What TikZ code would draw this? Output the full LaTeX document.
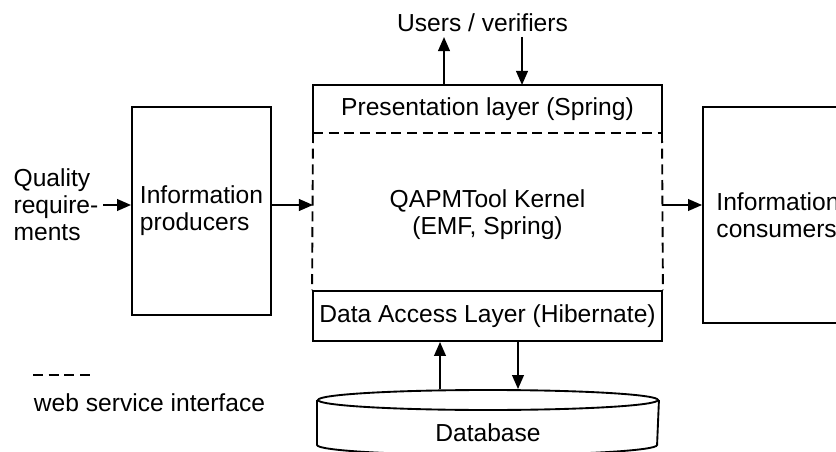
\documentclass[tikz,border=0pt]{standalone}
\usepackage{fontspec}
\setmainfont{Liberation Sans}
\usetikzlibrary{arrows.meta,shapes.geometric}

\begin{document}
\begin{tikzpicture}[x=0.03cm, y=-0.03cm, line width=1.6pt,
    font=\fontsize{21pt}{23pt}\selectfont,
    box/.style={draw, rectangle, inner sep=0pt},
    arr/.style={-{Triangle[length=12pt,width=10pt]}},
    wsi/.style={dash pattern=on 0.3cm off 0.17cm}]
    \useasboundingbox (0,0) rectangle (836,452);
    \clip (0,0) rectangle (836,452);
    \node(users) at (482.5,23) {Users / verifiers};
    \coordinate(uout) at (444,37);
    \coordinate(uin) at (522,37);
    \node[rectangle, inner sep=0pt, outer sep=0pt, minimum width=10.47cm, minimum height=1.44cm](pres) at (487.5,109) {Presentation layer (Spring)};
    \node[align=center](kernel) at (487.5,215) {QAPMTool Kernel\\(EMF, Spring)};
    \node[box, minimum width=10.47cm, minimum height=1.5cm](dal) at (487.5,316) {Data Access Layer (Hibernate)};
    \node[box, align=left, minimum width=4.17cm, minimum height=6.24cm](prod) at (201.5,211) {Information\\producers};
    \node[box, align=left, minimum width=4.5cm, minimum height=6.48cm](cons) at (778,215) {Information\\consumers};
    \node[align=left](quality) at (56,205) {Quality\\require-\\ments};
    \node[ellipse, draw, inner sep=0pt, minimum width=10.2cm, minimum height=0.6cm](dbtop) at (488,400) {};
    \node(db) at (488,433) {Database};
    \coordinate(dbout) at (440,0);
    \coordinate(dbin) at (518,0);
    \node[anchor=west, inner sep=0pt](legend) at (33,403) {web service interface};

    \draw (pres.south west) -- (pres.north west) -- (pres.north east) -- (pres.south east);
    \draw[wsi] (pres.south west) -- (pres.south east);
    \draw[wsi] (pres.south west) -- (dal.north west);
    \draw[wsi] (pres.south east) -- (dal.north east);
    \draw (dbtop.west) -- ++(0,45) arc[start angle=180, end angle=360, x radius=5.1cm, y radius=0.3cm] -- (dbtop.east);
    \draw[wsi] (33,375) -- (90,375);

    \draw[arr] (pres.north -| uout) -- (uout);
    \draw[arr] (uin) -- (pres.north -| uin);
    \draw[arr] (quality) -- (quality -| prod.west);
    \draw[arr] (quality -| prod.east) -- (quality -| pres.west);
    \draw[arr] (quality -| pres.east) -- (quality -| cons.west);
    \draw[arr] (dbtop.north -| dbout) -- (dal.south -| dbout);
    \draw[arr] (dal.south -| dbin) -- (dbtop.north -| dbin);
\end{tikzpicture}
\end{document}
